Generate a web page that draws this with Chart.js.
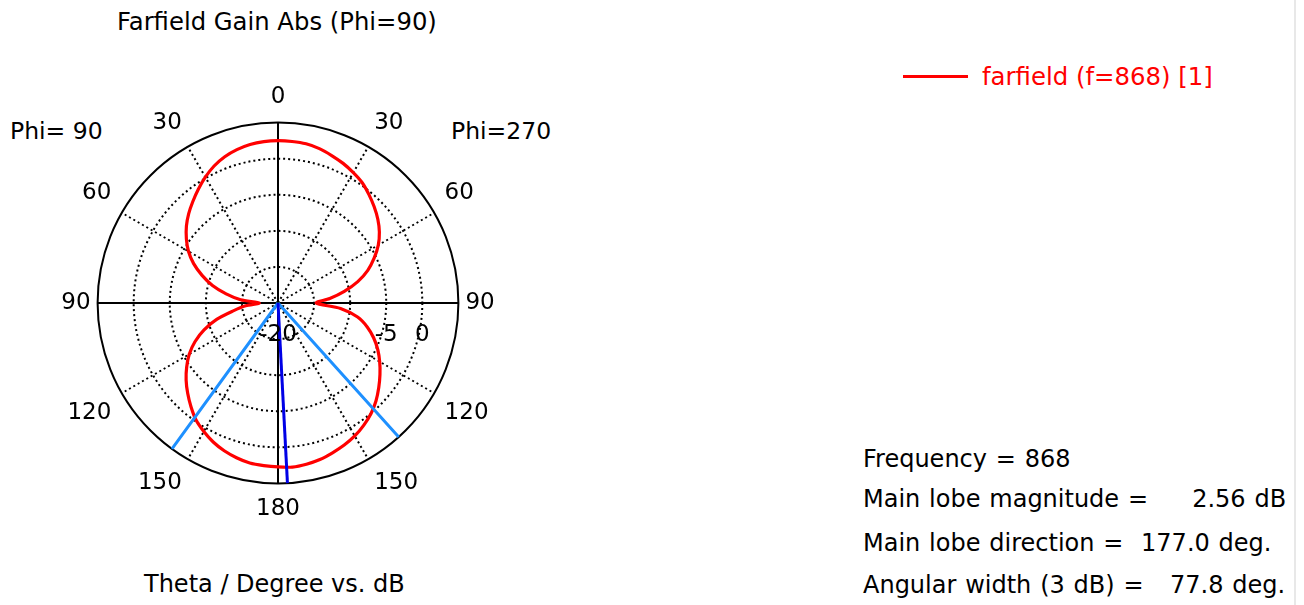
<!DOCTYPE html>
<html>
<head>
<meta charset="utf-8">
<script src="https://cdn.jsdelivr.net/npm/chart.js@4/dist/chart.umd.min.js"></script>
<style>
  html, body { margin: 0; padding: 0; background: #fff; }
  body { width: 1304px; height: 605px; position: relative; overflow: hidden; font-family: 'DejaVu Sans', Verdana, sans-serif; color: #000; }
  .txt { position: absolute; white-space: pre; font-size: 24px; line-height: 28px; }
  .info { word-spacing: 1.2px; }
  #polar-wrap { position: absolute; left: 58px; top: 84px; width: 440px; height: 440px; }
  #legend-line { position: absolute; left: 903px; top: 75px; width: 65px; height: 3px; background: #ff0000; }
  #edge { position: absolute; left: 1294px; top: 0; width: 2px; height: 605px; background: #e8e8e8; }
</style>
</head>
<body>
<div class="txt" style="left:117px; top:8px; font-size:24.3px;">Farfield Gain Abs (Phi=90)</div>
<div class="txt" style="left:10px; top:117px; font-size:23.5px;">Phi= 90</div>
<div class="txt" style="left:451px; top:117px; font-size:23.5px;">Phi=270</div>
<div class="txt" style="left:144px; top:570px;">Theta / Degree vs. dB</div>

<div id="legend-line"></div>
<div class="txt" style="left:982px; top:63px; color:#ff0000; font-size:24.4px;">farfield (f=868) [1]</div>

<div class="txt info" style="left:863px; top:445px;">Frequency = 868</div>
<div class="txt info" style="left:863px; top:485px;">Main lobe magnitude =     2.56 dB</div>
<div class="txt info" style="left:863px; top:529px;">Main lobe direction =  177.0 deg.</div>
<div class="txt info" style="left:863px; top:571px;">Angular width (3 dB) =   77.8 deg.</div>
<div id="edge"></div>

<div id="polar-wrap"><canvas id="polar"></canvas></div>

<script>
// Diagrama polar de ganancia (corte Phi=90 / Phi=270), theta cada 5 grados.
// Lado derecho = Phi=270 (theta 0..180 en sentido horario desde arriba),
// lado izquierdo = Phi=90 (theta 0..180 en sentido antihorario).

const THETA_STEP = 5;
const THETA_TICKS = ['0', '30', '60', '90', '120', '150', '180', '150', '120', '90', '60', '30'];
const RADIAL_TICKS_SHOWN = [-20, -5, 0];

// ganancia en dB, theta = 0, 5, ..., 180
const GAIN_PHI270 = [
  2.5, 2.47, 2.4, 2.15, 1.75, 1.35, 0.87, 0.35, -0.39, -1.15,
  -1.94, -2.85, -3.95, -5.3, -6.76, -8.55, -10.67, -12.8, -14.7, -11.3,
  -8.8, -7.2, -5.9, -4.75, -3.73, -2.75, -1.77, -0.8, 0.04, 0.7,
  1.28, 1.72, 2.09, 2.45, 2.68, 2.82, 2.72
];
const GAIN_PHI90 = [
  2.5, 2.45, 2.3, 2.0, 1.57, 0.95, 0.14, -0.75, -1.64, -2.5,
  -3.43, -4.5, -5.67, -7.1, -8.8, -10.6, -12.7, -14.8, -17.4, -15.5,
  -13.7, -11.2, -9.1, -7.3, -5.8, -4.55, -3.38, -2.3, -1.24, -0.2,
  0.56, 1.25, 1.79, 2.2, 2.52, 2.62, 2.72
];

// direcciones en grados horarios desde arriba (0..360)
const MAIN_LOBE_DIR = 177;
const BEAM_EDGES = [138, 216];

const R_MIN = -20;
const R_MAX = 5;

// --- tabla para el radar: 360 posiciones de 1 grado ---
const labels = new Array(360).fill('');
THETA_TICKS.forEach((t, i) => { labels[i * 30] = t; });

const gain = new Array(360).fill(null);
GAIN_PHI270.forEach((v, i) => { gain[i * THETA_STEP] = v; });
GAIN_PHI90.forEach((v, i) => {
  const a = 360 - i * THETA_STEP;
  if (i > 0 && a > 180) gain[a] = v;
});

// un rayo desde el centro (valor mínimo) hasta el borde en cada dirección
function rayos(dirs) {
  const d = new Array(360).fill(null);
  for (const a of dirs) {
    d[a - 1] = R_MIN;
    d[a] = R_MAX;
  }
  return d;
}

const radialLabels = {
  id: 'radialLabels',
  afterDraw(chart) {
    const s = chart.scales.r;
    const ctx = chart.ctx;
    ctx.save();
    ctx.font = '23px "DejaVu Sans", Verdana, sans-serif';
    ctx.fillStyle = '#000';
    ctx.textAlign = 'center';
    ctx.textBaseline = 'middle';
    for (const v of RADIAL_TICKS_SHOWN) {
      ctx.fillText(String(v), s.xCenter + s.getDistanceFromCenterForValue(v), s.yCenter + 32);
    }
    ctx.restore();
  },
};

new Chart(document.getElementById('polar'), {
  type: 'radar',
  data: {
    labels,
    datasets: [
      { data: rayos(BEAM_EDGES), borderColor: '#1e90ff', borderWidth: 3, spanGaps: false, order: 1 },
      { data: rayos([MAIN_LOBE_DIR]), borderColor: '#0000e6', borderWidth: 3, spanGaps: false, order: 0 },
      { data: gain, borderColor: '#ff0000', borderWidth: 3.2, spanGaps: true, tension: 0.3, order: 2 },
    ],
  },
  options: {
    responsive: true,
    maintainAspectRatio: false,
    animation: false,
    layout: { padding: 0 },
    elements: { point: { radius: 0, hoverRadius: 0 }, line: { fill: false } },
    plugins: { legend: { display: false }, tooltip: { enabled: false } },
    scales: {
      r: {
        min: R_MIN,
        max: R_MAX,
        startAngle: 0,
        ticks: { display: false, stepSize: 5 },
        grid: {
          circular: true,
          color: '#000',
          lineWidth: (c) => (c.tick && c.tick.value === R_MAX ? 2 : 2),
        },
        border: { dash: (c) => (c.tick && c.tick.value === R_MAX ? [] : [2, 3]) },
        angleLines: {
          color: '#000',
          lineWidth: (c) => (c.index % 90 === 0 ? 2 : (c.index % 30 === 0 ? 2 : 0)),
          borderDash: (c) => (c.index % 90 === 0 ? [] : [2, 3]),
        },
        pointLabels: {
          padding: (c) => (c.index % 180 === 90 ? 7 : 12),
          color: '#000',
          font: { family: '"DejaVu Sans", Verdana, sans-serif', size: 23 },
        },
      },
    },
  },
  plugins: [radialLabels],
});
</script>
</body>
</html>
